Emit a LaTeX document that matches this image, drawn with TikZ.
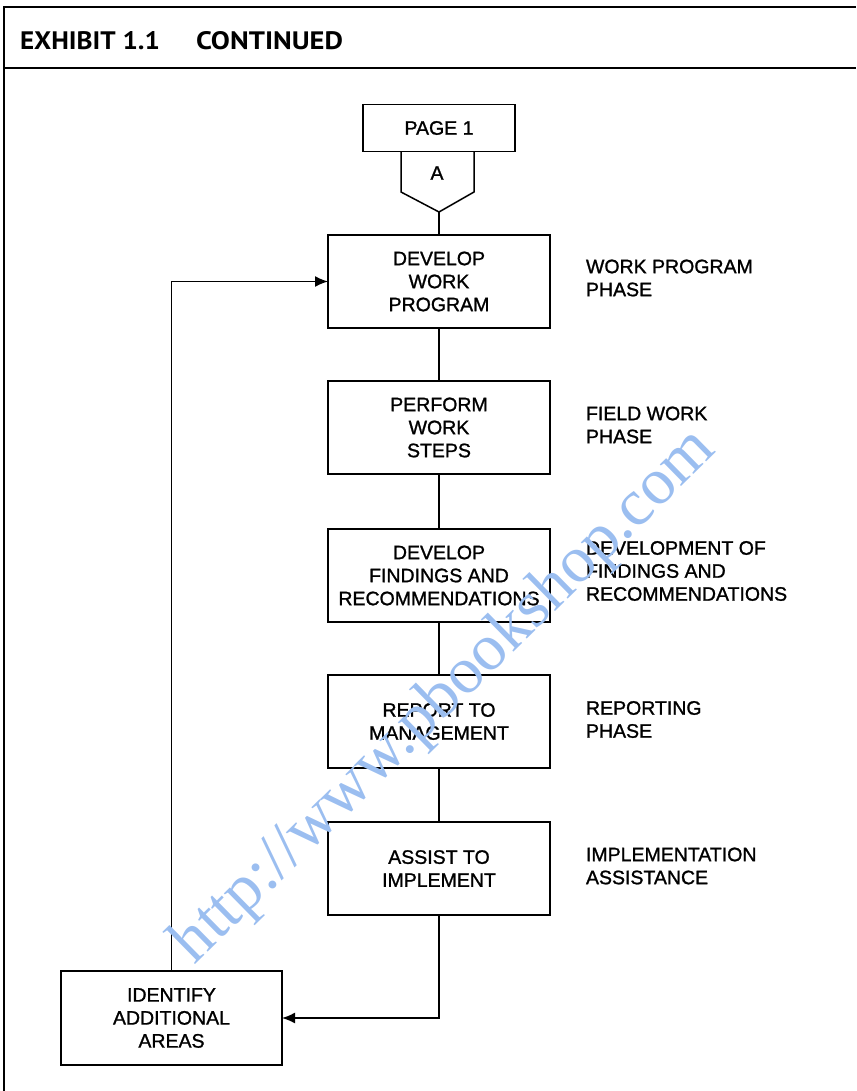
\documentclass[tikz,border=0pt]{standalone}
\usepackage{fontspec}
\setmainfont{Liberation Sans}
\newfontfamily\bodyfont{Liberation Sans}[FakeBold=1.2]
\newfontfamily\hdrfont{PT Sans}
\newfontfamily\wmfont{Liberation Serif}
\usetikzlibrary{arrows.meta}
\definecolor{wmblue}{RGB}{155,190,240}
\begin{document}
\begin{tikzpicture}[x=1pt,y=-1pt,
  every node/.style={inner sep=0pt,outer sep=0pt},
  txt/.style={font=\bodyfont\fontsize{19.5}{23}\selectfont,align=center},
  lbl/.style={font=\bodyfont\fontsize{19.5}{23}\selectfont,align=left,anchor=west},
  stepbox/.style={draw,line width=1.5pt,minimum width=222pt,minimum height=93pt,txt},
  conn/.style={line width=1.5pt},
  arr/.style={line width=1.5pt,-{Latex[length=13pt,width=11pt]}}]
\useasboundingbox (0,0) rectangle (856,1091);
% frame
\draw[line width=1.6pt] (4,1091) -- (4,7) -- (856,7);
\draw[line width=2pt] (4,68) -- (856,68);
\node[anchor=south west] (h1) at (20,50) {\resizebox{140pt}{18pt}{\hdrfont\bfseries EXHIBIT 1.1}};
\node[anchor=south west] (h2) at (196,50) {\resizebox{147pt}{18pt}{\hdrfont\bfseries CONTINUED}};
% page connector
\node[draw,line width=1.5pt,minimum width=152pt,minimum height=47pt,txt] (page) at (439,128) {PAGE 1};
\coordinate (Atip) at (439,212);
\draw[conn] (401,152) -- (401,192) -- (Atip) -- (474,192) -- (474,152);
\node[txt] (A) at (437,173) {A};
% boxes
\node[stepbox] (b1) at (439,281.5) {DEVELOP\\WORK\\PROGRAM};
\node[stepbox] (b2) at (439,427.5) {PERFORM\\WORK\\STEPS};
\node[stepbox] (b3) at (439,575.5) {DEVELOP\\FINDINGS AND\\RECOMMENDATIONS};
\node[stepbox] (b4) at (439,721.5) {REPORT TO\\MANAGEMENT};
\node[stepbox] (b5) at (439,868.5) {ASSIST TO\\IMPLEMENT};
\node[stepbox,minimum width=221pt,minimum height=94pt] (b6) at (171.5,1018) {IDENTIFY\\ADDITIONAL\\AREAS};
% connectors
\draw[conn] (Atip) -- (b1.north);
\draw[conn] (b1) -- (b2);
\draw[conn] (b2) -- (b3);
\draw[conn] (b3) -- (b4);
\draw[conn] (b4) -- (b5);
\draw[arr] (b5.south) |- (b6.east);
\draw[arr] (b6.north) |- (b1.west);
% labels
\node[lbl] (l1) at (586,278) {WORK PROGRAM\\PHASE};
\node[lbl] (l2) at (586,425) {FIELD WORK\\PHASE};
\node[lbl] (l3) at (586,571) {DEVELOPMENT OF\\FINDINGS AND\\RECOMMENDATIONS};
\node[lbl] (l4) at (586,719.5) {REPORTING\\PHASE};
\node[lbl] (l5) at (586,866) {IMPLEMENTATION\\ASSISTANCE};
% watermark
\node[rotate=44.5,text=wmblue,font=\wmfont\fontsize{66}{70}\selectfont] (wm) at (445,697) {http://www.pbookshop.com};
\end{tikzpicture}
\end{document}
